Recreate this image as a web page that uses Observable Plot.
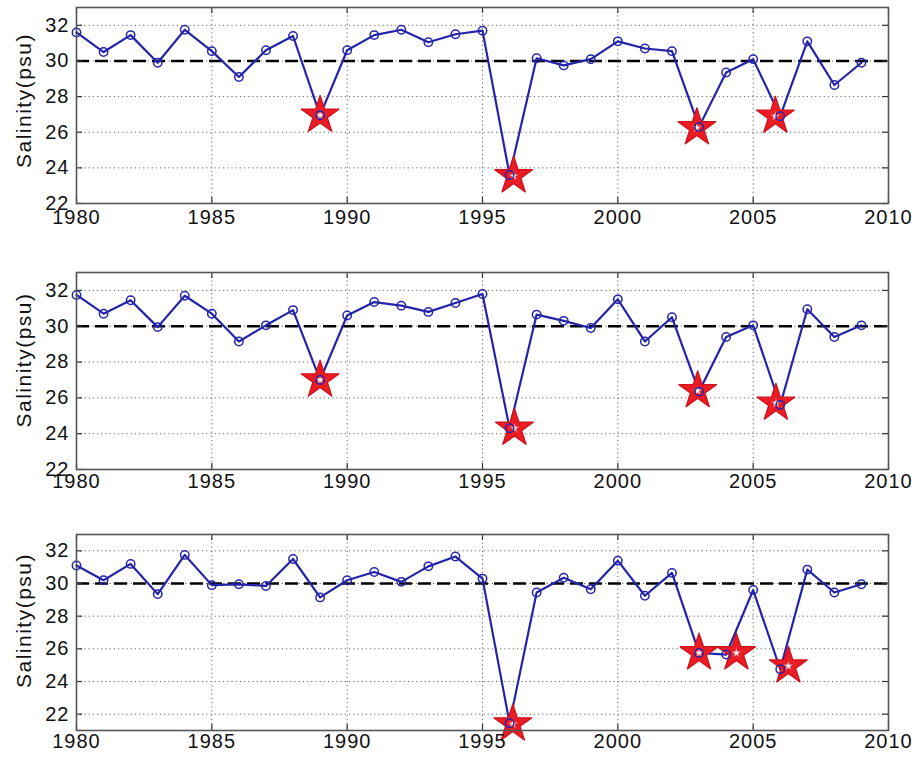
<!DOCTYPE html>
<html>
<head>
<meta charset="utf-8">
<script src="https://cdn.jsdelivr.net/npm/d3@7"></script>
<script src="https://cdn.jsdelivr.net/npm/@observablehq/plot@0.6"></script>
<style>
  html, body { margin: 0; padding: 0; background: #fff; }
  #chart { width: 919px; }
  #chart svg { display: block; }
  g[aria-label="x-axis tick label"] text,
  g[aria-label="y-axis tick label"] text { letter-spacing: 1px; }
  .ylab text { letter-spacing: 1.5px; }
</style>
</head>
<body>
<div id="chart"></div>
<script>
// ---- data ----
const years = [1980,1981,1982,1983,1984,1985,1986,1987,1988,1989,
               1990,1991,1992,1993,1994,1995,1996,1997,1998,1999,
               2000,2001,2002,2003,2004,2005,2006,2007,2008,2009];

const salinityTop = [31.6,30.5,31.45,29.9,31.75,30.55,29.1,30.6,31.4,26.95,
                     30.6,31.45,31.75,31.05,31.5,31.7,23.6,30.15,29.75,30.1,
                     31.1,30.7,30.55,26.3,29.35,30.1,26.9,31.1,28.65,29.9];
const salinityMiddle = [31.75,30.7,31.45,29.95,31.7,30.7,29.15,30.05,30.9,27.0,
                        30.6,31.35,31.15,30.8,31.3,31.8,24.3,30.65,30.3,29.9,
                        31.5,29.15,30.5,26.35,29.4,30.05,25.6,30.95,29.4,30.05];
const salinityBottom = [31.1,30.2,31.2,29.35,31.75,29.9,29.95,29.85,31.5,29.15,
                        30.2,30.7,30.1,31.05,31.65,30.3,21.45,29.45,30.35,29.65,
                        31.4,29.25,30.65,25.75,25.65,29.6,24.75,30.85,29.45,29.95];

const starYearsTop = [1989, 1996.15, 2002.92, 2005.82];
const starValuesTop = [26.95, 23.55, 26.25, 26.9];
const starYearsMiddle = [1989, 1996.18, 2002.95, 2005.84];
const starValuesMiddle = [27.0, 24.3, 26.4, 25.7];
const starYearsBottom = [1996.12, 2003, 2004.38, 2006.3];
const starValuesBottom = [21.4, 25.75, 25.75, 24.95];

const xTicks = [1980, 1985, 1990, 1995, 2000, 2005, 2010];
const yTicks = [22, 24, 26, 28, 30, 32];
const referenceLevel = 30;
const yLabel = "Salinity(psu)";

// ---- drawing ----
const W = 919, ML = 76, MR = 31, MT = 7;
const lineBlue = "#2424aa";

function panel({values, starX, starY, yDomain, height, marginBottom, tickPad, labelDy}) {
  const pts = years.map((year, i) => ({year, value: values[i]}));
  const stars = starX.map((year, i) => ({year, value: starY[i]}));
  const innerH = height - MT - marginBottom;
  const innerW = W - ML - MR;
  const tick = 6;
  return Plot.plot({
    width: W, height,
    marginLeft: ML, marginRight: MR, marginTop: MT, marginBottom,
    style: {fontFamily: "'Liberation Sans', Arial, sans-serif", fontSize: "20px", color: "#111", background: "#fff", overflow: "visible"},
    x: {domain: [1980, 2010]},
    y: {domain: yDomain},
    marks: [
      Plot.gridX(xTicks, {stroke: "#666", strokeOpacity: 1, strokeDasharray: "1.2,3"}),
      Plot.gridY(yTicks, {stroke: "#666", strokeOpacity: 1, strokeDasharray: "1.2,3"}),
      Plot.ruleY([referenceLevel], {stroke: "#000", strokeWidth: 2.6, strokeDasharray: "13,6"}),
      Plot.line(pts, {x: "year", y: "value", stroke: lineBlue, strokeWidth: 2.2}),
      Plot.dot(stars, {x: "year", y: "value", symbol: d3.symbolStar, r: 11.8, fill: "#ec1c24", stroke: "#d0141c", strokeWidth: 1.4, strokeLinejoin: "round"}),
      Plot.dot(stars, {x: "year", y: "value", symbol: d3.symbolStar, r: 2.8, fill: "#fff", stroke: "#e05060", strokeWidth: 0.6}),
      Plot.dot(pts, {x: "year", y: "value", r: 4.2, stroke: lineBlue, fill: "none", strokeWidth: 1.5}),
      Plot.tickX(xTicks, {x: d => d, insetTop: innerH - tick, stroke: "#333", strokeWidth: 1.2}),
      Plot.tickX(xTicks, {x: d => d, insetBottom: innerH - tick, stroke: "#333", strokeWidth: 1.2}),
      Plot.tickY(yTicks, {y: d => d, insetLeft: innerW - tick, stroke: "#333", strokeWidth: 1.2}),
      Plot.tickY(yTicks, {y: d => d, insetRight: innerW - tick, stroke: "#333", strokeWidth: 1.2}),
      Plot.frame({stroke: "#555", strokeWidth: 1.6}),
      Plot.axisX(xTicks, {tickSize: 0, tickPadding: tickPad, tickFormat: d => String(d), label: null, fill: "#111"}),
      Plot.axisY(yTicks, {tickSize: 0, tickPadding: 7, tickFormat: d => String(d), label: null, fill: "#111"}),
      Plot.text([yLabel], {text: d => d, frameAnchor: "left", rotate: -90, dx: -52, dy: labelDy,
                           textAnchor: "middle", lineAnchor: "middle", fontSize: 21, fill: "#111", className: "ylab"})
    ]
  });
}

const chart = document.getElementById("chart");
chart.append(panel({values: salinityTop, starX: starYearsTop, starY: starValuesTop,
  yDomain: [22, 33], height: 265, marginBottom: 62, tickPad: 6, labelDy: -5}));
chart.append(panel({values: salinityMiddle, starX: starYearsMiddle, starY: starValuesMiddle,
  yDomain: [22, 33], height: 262, marginBottom: 58, tickPad: 4, labelDy: -11}));
chart.append(panel({values: salinityBottom, starX: starYearsBottom, starY: starValuesBottom,
  yDomain: [21, 33], height: 237, marginBottom: 34, tickPad: 3, labelDy: -12}));
</script>
</body>
</html>
